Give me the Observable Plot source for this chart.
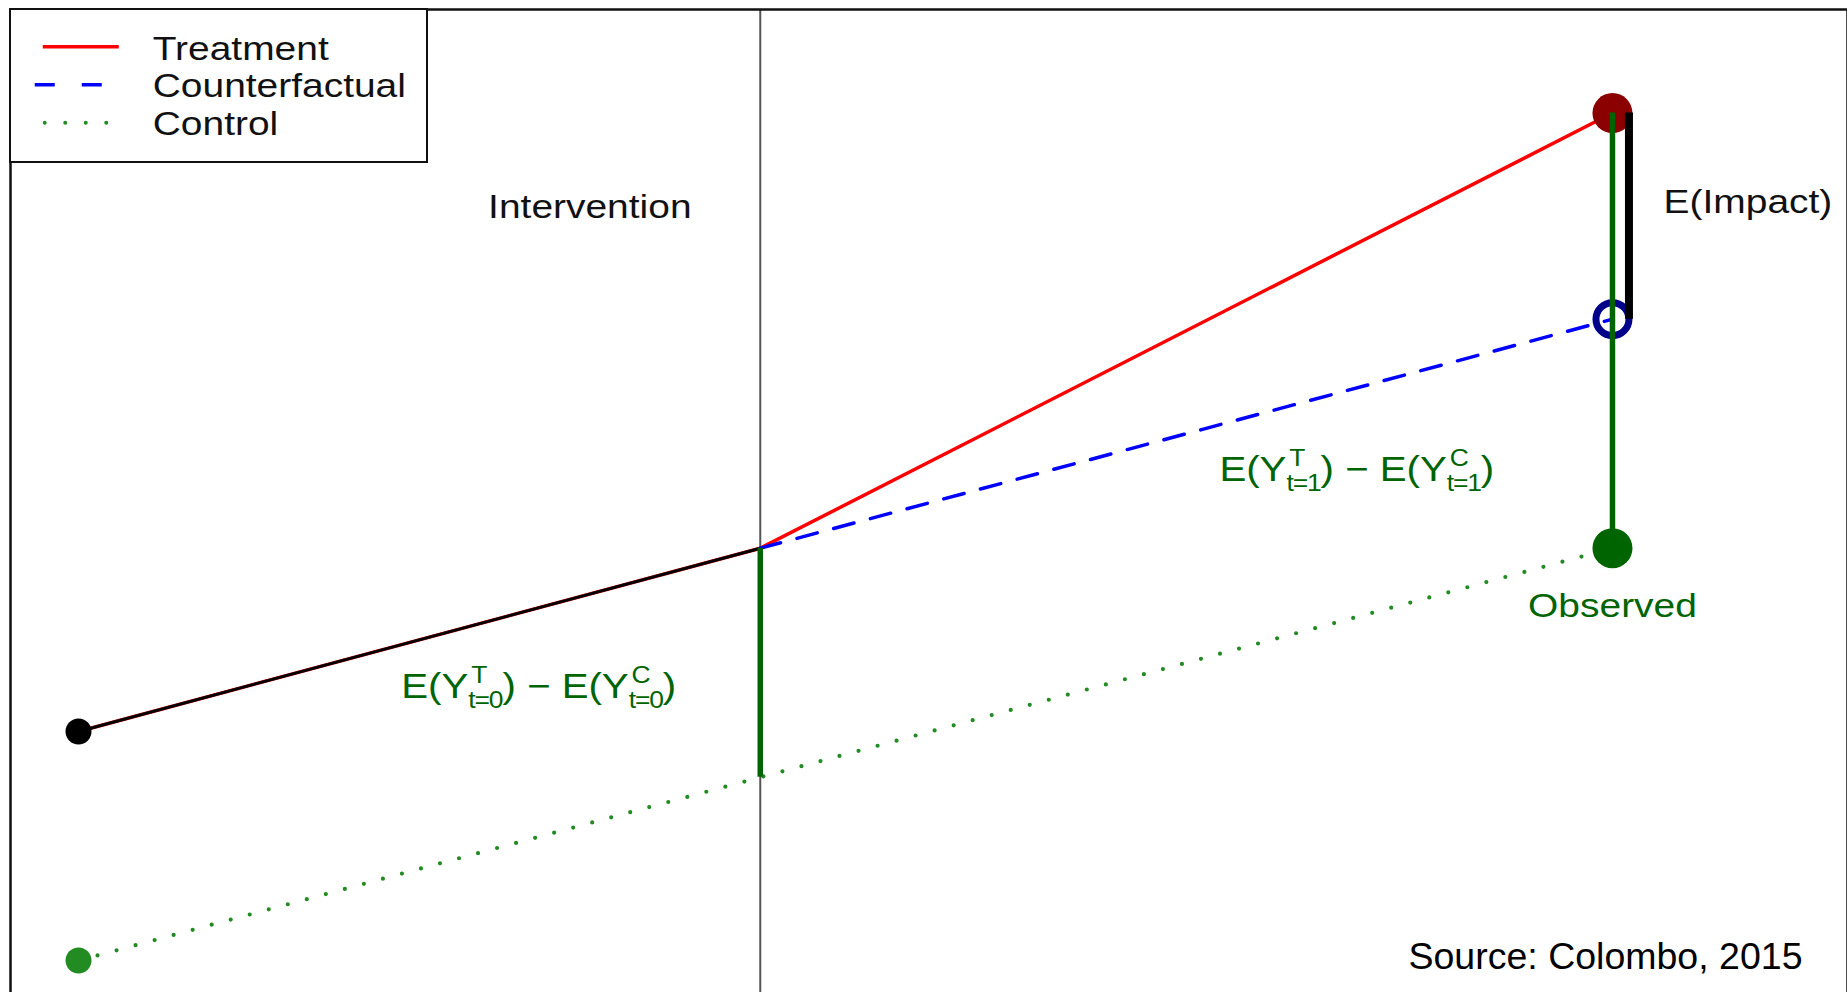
<!DOCTYPE html>
<html><head><meta charset="utf-8">
<script src="https://cdn.jsdelivr.net/npm/d3@7"></script>
<script src="https://cdn.jsdelivr.net/npm/@observablehq/plot@0.6"></script>
<style>
html,body{margin:0;padding:0;background:#fff;overflow:hidden;}
#wrap{position:relative;width:1847px;height:992px;overflow:hidden;font-family:"Liberation Sans",Arial,sans-serif;}
#legend{position:absolute;left:8.75px;top:7.75px;width:419.5px;height:155.5px;box-sizing:border-box;border:2.5px solid #111;background:#fff;}
#legend svg{position:absolute;left:0;top:0;overflow:visible;}
</style></head><body><div id="wrap"></div>
<script>
// ---------- data ----------
const periods = ["t=0", "Intervention", "t=1"];
const times = [0, 4, 9];
const treatment = [5, 9, 18.5];
const control = [0, 4, 9];
const counterfactual = [null, 9, 14];
const seriesNames = ["Treatment", "Counterfactual", "Control"];
const labels = ["Intervention", "E(Impact)", "Observed", "E(Y^T_{t=1}) \u2212 E(Y^C_{t=1})", "E(Y^T_{t=0}) \u2212 E(Y^C_{t=0})"];
const labelTimes = [3.0, 9.3, 9.0, 7.5, 2.7];
const labelValues = [16.45, 16.54, 7.74, 10.71, 5.97];
const source = "Source: Colombo, 2015";

// ---------- tables ----------
const treatRows = times.map((t, i) => ({t, y: treatment[i]}));
const ctrlRows = times.map((t, i) => ({t, y: control[i]}));
const cfRows = times.map((t, i) => ({t, y: counterfactual[i]})).filter(d => d.y != null);
const preRows = treatRows.filter(d => d.t <= times[1]);
const gapRows = [1, 2].map(i => ({t: times[i], y1: control[i], y2: treatment[i]}));
const impactRows = [{t: times[2], y1: counterfactual[2], y2: treatment[2]}];
const annRows = labels.map((label, i) => ({label, t: labelTimes[i], y: labelValues[i]}));

// ---------- styles ----------
const GREEN = "#006400";
const FONT = 33, FORMULA_FONT = 35, SMALL = 23, STRETCH = 1.18, FORMULA_STRETCH = 1.15;
const textStyles = [
  {fill: "#111", textAnchor: "middle", fontSize: FONT},
  {fill: "#111", textAnchor: "start", fontSize: FONT},
  {fill: GREEN, textAnchor: "middle", fontSize: FONT},
  {fill: GREEN, textAnchor: "middle", fontSize: FORMULA_FONT},
  {fill: GREEN, textAnchor: "middle", fontSize: FORMULA_FONT}
];

const chart = Plot.plot({
  width: 1847, height: 1000,
  marginLeft: 10, marginRight: 0, marginTop: 9, marginBottom: 0,
  x: {domain: [-0.399, 10.379], axis: null},
  y: {domain: [-0.873, 20.76], axis: null},
  style: {fontFamily: "'Liberation Sans', Arial, sans-serif", background: "white"},
  marks: [
    Plot.ruleX([times[1]], {stroke: "#555", strokeWidth: 2}),
    Plot.line(ctrlRows, {x: "t", y: "y", stroke: "forestgreen", strokeWidth: 4.2, strokeDasharray: "0,19.7", strokeLinecap: "round"}),
    Plot.line(treatRows, {x: "t", y: "y", stroke: "red", strokeWidth: 3.5}),
    Plot.line(preRows, {x: "t", y: "y", stroke: "black", strokeWidth: 3}),
    Plot.line(cfRows, {x: "t", y: "y", stroke: "blue", strokeWidth: 3.5, strokeDasharray: "21,17"}),
    Plot.dot([treatRows[0]], {x: "t", y: "y", r: 13, fill: "black"}),
    Plot.dot([ctrlRows[0]], {x: "t", y: "y", r: 13, fill: "forestgreen"}),
    Plot.dot([treatRows[2]], {x: "t", y: "y", r: 20, fill: "#8B0000"}),
    Plot.dot([cfRows[cfRows.length - 1]], {x: "t", y: "y", r: 16.5, fill: "none", stroke: "#00008B", strokeWidth: 7}),
    Plot.dot([ctrlRows[2]], {x: "t", y: "y", r: 20, fill: GREEN}),
    Plot.ruleX(gapRows, {x: "t", y1: "y1", y2: "y2", stroke: GREEN, strokeWidth: 5.5}),
    Plot.ruleX(impactRows, {x: "t", y1: "y1", y2: "y2", stroke: "black", strokeWidth: 8, dx: 16.5}),
    ...annRows.map((a, i) => Plot.text([a], {x: "t", y: "y", text: "label", ...textStyles[i]})),
    Plot.text([source], {frameAnchor: "bottom-right", textAnchor: "end", lineAnchor: "bottom", dx: -45, dy: -32, fontSize: 37.5, fill: "black"}),
    Plot.frame({stroke: "#111", strokeWidth: 2.5})
  ]
});

const wrap = document.getElementById("wrap");
wrap.appendChild(chart);

// ---------- rich labels (super/subscripts) + horizontal stretch ----------
const NS = "http://www.w3.org/2000/svg";
const SUB = 10, SUP = 15;
function richify(el) {
  const s = el.textContent;
  el.textContent = "";
  const re = /\^([^_]+)_\{([^}]*)\}/g;
  let last = 0, m, dx = 0, dy = 0;
  const add = (txt, size, ddx, ddy, ls) => {
    const t = document.createElementNS(NS, "tspan");
    t.textContent = txt;
    if (size) t.setAttribute("font-size", size);
    if (ddx) t.setAttribute("dx", ddx);
    if (ddy) t.setAttribute("dy", ddy);
    if (ls) t.setAttribute("letter-spacing", ls);
    el.appendChild(t);
    return t;
  };
  while ((m = re.exec(s))) {
    add(s.slice(last, m.index), null, dx, dy);
    const sub = add(m[2], SMALL, 0, SUB, -1);
    const ws = sub.getComputedTextLength();
    const sup = add(m[1], SMALL, -ws + 2.5, -(SUB + SUP));
    const wp = sup.getComputedTextLength();
    dx = ws - wp - 2.5; dy = SUP;
    last = re.lastIndex;
  }
  add(s.slice(last), null, dx, dy);
}
chart.querySelectorAll("text").forEach(el => {
  const s = el.textContent;
  if (!labels.includes(s)) return;
  let k = STRETCH;
  if (s.includes("^")) { richify(el); k = FORMULA_STRETCH; }
  el.setAttribute("transform", (el.getAttribute("transform") || "") + ` scale(${k},1)`);
});

// ---------- legend ----------
const legend = document.createElement("div");
legend.id = "legend";
const lx2 = 107.75, tx = 141.75;
const lineY = [36.75, 74.75, 112.75];
const textY = [49.75, 86.75, 124.75];
const sampleStyles = [
  `x1="31.75" x2="${lx2}" stroke="red" stroke-width="3.5"`,
  `x1="23.75" x2="${lx2}" stroke="blue" stroke-width="3.5" stroke-dasharray="20,27"`,
  `x1="33.75" x2="${lx2}" stroke="forestgreen" stroke-width="4" stroke-dasharray="0,20.5" stroke-linecap="round"`
];
legend.innerHTML = `<svg width="415" height="151">${seriesNames.map((name, i) =>
  `<line ${sampleStyles[i]} y1="${lineY[i]}" y2="${lineY[i]}"></line>` +
  `<text transform="translate(${tx},${textY[i]}) scale(${STRETCH},1)" font-size="${FONT}" fill="#111" font-family="'Liberation Sans', Arial, sans-serif">${name}</text>`
).join("")}</svg>`;
wrap.appendChild(legend);
</script>
</body></html>
